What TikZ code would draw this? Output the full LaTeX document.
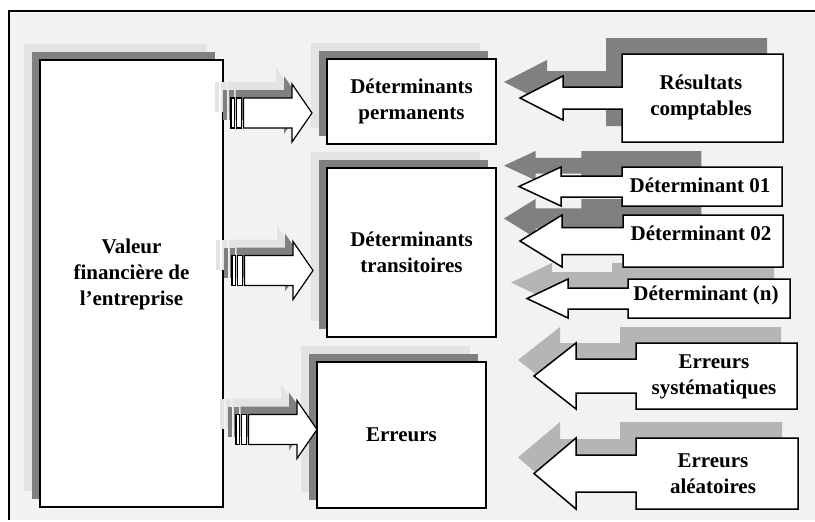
\documentclass[tikz,border=0pt]{standalone}
\usepackage{fontspec}
\setmainfont{Liberation Serif}
\usetikzlibrary{shadows}

\definecolor{bgframe}{HTML}{F2F2F2}
\definecolor{shdark}{HTML}{808080}
\definecolor{shmid}{HTML}{B5B5B5}
\definecolor{shlight}{HTML}{E3E3E3}

% callout box with arrow to the left:
% style, left, right, top, bottom, head x, tip x, head half height, shaft half height
\newcommand{\callout}[9]{%
  \pgfmathsetmacro{\calloutcy}{(#4+#5)/2}%
  \draw[#1] (#2,#4) -- (#3,#4) -- (#3,#5) -- (#2,#5) -- (#2,\calloutcy+#9)
    -- (#6,\calloutcy+#9) -- (#6,\calloutcy+#8) -- (#7,\calloutcy)
    -- (#6,\calloutcy-#8) -- (#6,\calloutcy-#9) -- (#2,\calloutcy-#9) -- cycle;}

% striped arrow to the right: style, start x, centre y
\newcommand{\stripedarrow}[3]{%
  \draw[#1] (#2,#3-15) rectangle (#2+3.5,#3+15);
  \draw[#1] (#2+5.5,#3-15) rectangle (#2+10.5,#3+15);
  \draw[#1] (#2+12.5,#3-15) -- (#2+61,#3-15) -- (#2+61,#3-29) -- (#2+81,#3)
    -- (#2+61,#3+29) -- (#2+61,#3+15) -- (#2+12.5,#3+15) -- cycle;}

\tikzset{
  shadowfill/.style={fill=#1, draw=none},
  outline/.style={draw=black, fill=white, line width=1.5pt, line join=miter},
  txt/.style={font=\bfseries\fontsize{21}{26}\selectfont, align=center, inner sep=0pt},
  box/.style={outline, inner sep=0pt,
    general shadow={fill=shlight, shadow xshift=-16pt, shadow yshift=16pt},
    general shadow={fill=shdark, shadow xshift=-8pt, shadow yshift=8pt}}
}

\begin{document}
\begin{tikzpicture}[x=1pt, y=-1pt]
  \useasboundingbox (0,0) rectangle (815,522);

  % frame
  \fill[bgframe] (9,11) rectangle (815,520);
  \draw[line width=2pt] (9,520) -- (9,11) -- (815,11);

  % left column
  \node[box, minimum width=183pt, minimum height=447pt] (Valeur) at (131.5,283.5) {};
  \node[txt] (ValeurTxt) at (131.5,274) {Valeur\\financière de\\l’entreprise};

  % middle column
  \node[box, txt, minimum width=169pt, minimum height=85pt] (Permanents) at (411.5,101.5) {Déterminants\\permanents};
  \node[box, txt, minimum width=169pt, minimum height=169pt] (Transitoires) at (411.5,252.5) {Déterminants\\transitoires};
  \node[box, txt, minimum width=169pt, minimum height=146pt] (Erreurs) at (401.5,435) {Erreurs};

  % striped arrows
  \foreach \sx/\sy in {231/113, 232/270.5, 236/429.5} {
    \stripedarrow{shadowfill=shlight, shift={(-16,-16)}}{\sx}{\sy}
    \stripedarrow{shadowfill=shdark, shift={(-8,-8)}}{\sx}{\sy}
    \stripedarrow{outline, line width=1.2pt}{\sx}{\sy}
  }

  % callout shadows
  \callout{shadowfill=shdark, shift={(-16,-16)}}{622}{783}{54}{142}{563}{520}{22}{11}
  \callout{shadowfill=shdark, shift={(504,151)}, scale=0.75, shift={(-519,-167)}}{622}{782}{167}{206}{561}{519}{19.5}{10.5}
  \callout{shadowfill=shdark, shift={(504,199)}, scale=0.75, shift={(-520,-215)}}{623}{783}{215}{267}{562}{520}{26}{13.5}
  \callout{shadowfill=shmid, shift={(-16,-16)}}{628}{790}{279}{318}{568}{527}{19.5}{10.5}
  \callout{shadowfill=shmid, shift={(-16,-16)}}{636}{797}{343}{409}{576}{534}{33}{17}
  \callout{shadowfill=shmid, shift={(-16,-16)}}{636}{798}{438}{509}{576}{534}{35.5}{18.5}

  % callouts
  \callout{outline}{622}{783}{54}{142}{563}{520}{22}{11}
  \callout{outline}{622}{782}{167}{206}{561}{519}{19.5}{10.5}
  \callout{outline}{623}{783}{215}{267}{562}{520}{26}{13.5}
  \callout{outline}{628}{790}{279}{318}{568}{527}{19.5}{10.5}
  \callout{outline}{636}{797}{343}{409}{576}{534}{33}{17}
  \callout{outline}{636}{798}{438}{509}{576}{534}{35.5}{18.5}

  \node[txt] (Resultats) at (701,97.5) {Résultats\\comptables};
  \node[txt] (D1) at (700,185) {Déterminant 01};
  \node[txt] (D2) at (701,233) {Déterminant 02};
  \node[txt] (DN) at (706,295) {Déterminant (n)};
  \node[txt] (ES) at (714,376.5) {Erreurs\\systématiques};
  \node[txt] (EA) at (713,474) {Erreurs\\aléatoires};

\end{tikzpicture}
\end{document}
